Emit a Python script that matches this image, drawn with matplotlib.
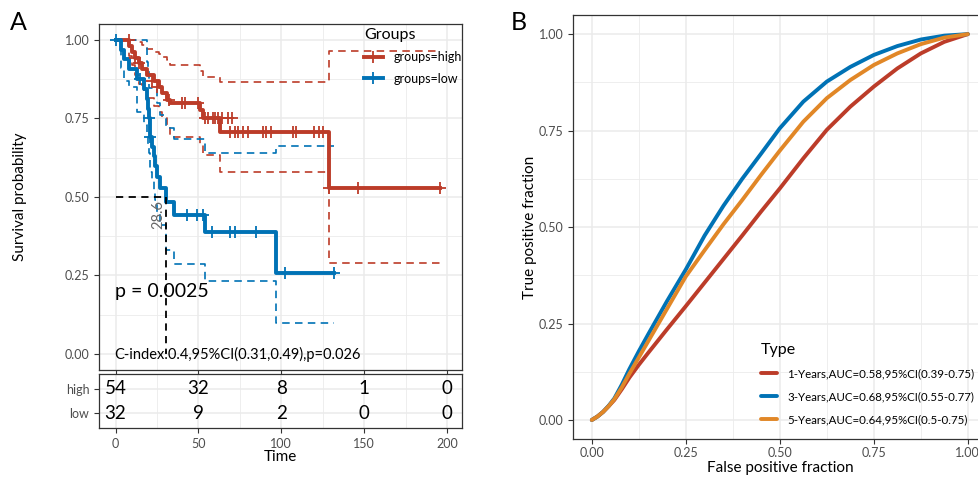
import numpy as np
import matplotlib
matplotlib.use("Agg")
import matplotlib.pyplot as plt
from matplotlib.lines import Line2D

plt.rcParams["font.family"] = ["Lato", "DejaVu Sans"]

RED = "#BC3C29"
BLUE = "#0072B5"
ORANGE = "#E18727"
GRID = "#EBEBEB"
TICK = "#4D4D4D"
BORDER = "#333333"

# ---- panel A: Kaplan-Meier ----
high_t = [0, 8, 10, 12, 14, 16, 19, 23, 26, 28, 31, 33, 51, 53, 63, 129, 196]
high_s = [1, .981, .963, .944, .926, .907, .888, .869, .85, .83, .81, .80, .777, .753, .707, .53, .53]
high_up = [1, 1, 1, 1, .995, .985, .97, .962, .955, .945, .935, .92, .90, .883, .867, .966, .966]
high_lo = [1, .95, .92, .89, .86, .84, .815, .79, .77, .75, .73, .69, .665, .634, .578, .29, .29]
high_cens_t = [8, 12, 14, 22, 25, 32, 40, 42, 50, 54, 56, 58.5, 60, 62, 64, 68, 70.5,
               69, 72, 74, 77, 80, 89, 91, 94, 107, 109, 120, 123, 125, 129, 146, 196]
high_cens_s = [1, .944, .926, .869, .85, .81, .80, .80, .80, .753, .753, .753, .753, .753, .753, .753, .753,
               .707, .707, .707, .707, .707, .707, .707, .707, .707, .707, .707, .707, .707, .53, .53, .53]

low_t = [0, 3, 5, 8, 13, 17, 19, 19.5, 20, 20.5, 21, 22, 23, 24, 25, 27, 30.5, 35, 54, 96.5, 132]
low_s = [1, .969, .938, .906, .875, .844, .812, .78, .75, .72, .69, .66, .63, .60, .565, .53, .485, .443, .388, .258, .258]
low_up = [1, 1, 1, 1, 1, 1, .93, .90, .846, .846, .846, .846, .846, .846, .80, .76, .72, .684, .64, .663, .663]
low_lo = [1, .91, .87, .85, .77, .73, .70, .67, .64, .61, .58, .55, .52, .49, .45, .41, .33, .287, .233, .099, .099]
low_cens_t = [0, 15, 20, 21, 43, 49, 53, 58, 69, 72, 85, 102, 132]
low_cens_s = [1, .875, .75, .69, .443, .443, .443, .388, .388, .388, .388, .258, .258]

risk_times = [0, 50, 100, 150, 200]
risk_high = [54, 32, 8, 1, 0]
risk_low = [32, 9, 2, 0, 0]
median_label = "28.6"
pval_text = "p = 0.0025"
cindex_text = "C-index:0.4,95%CI(0.31,0.49),p=0.026"

# ---- panel B: time-dependent ROC ----
fpr = [0, 0.015, 0.03, 0.045, 0.06, 0.08, 0.1, 0.125, 0.15, 0.2, 0.25, 0.3, 0.35, 0.4, 0.45, 0.5,
       0.5625, 0.625, 0.6875, 0.75, 0.8125, 0.875, 0.9375, 1.0]
tpr_1y = [0, 0.009, 0.021, 0.036, 0.052, 0.08, 0.11, 0.143, 0.174, 0.235, 0.295, 0.356, 0.417,
          0.478, 0.54, 0.600, 0.678, 0.752, 0.812, 0.864, 0.911, 0.95, 0.98, 1.0]
tpr_3y = [0, 0.009, 0.021, 0.037, 0.056, 0.092, 0.132, 0.178, 0.222, 0.308, 0.39, 0.478, 0.555,
          0.625, 0.69, 0.756, 0.825, 0.877, 0.915, 0.946, 0.969, 0.986, 0.996, 1.0]
tpr_5y = [0, 0.009, 0.021, 0.036, 0.054, 0.085, 0.12, 0.162, 0.204, 0.288, 0.372, 0.44, 0.507,
          0.57, 0.635, 0.698, 0.773, 0.834, 0.881, 0.92, 0.95, 0.974, 0.991, 1.0]
roc_labels = ["1-Years,AUC=0.58,95%CI(0.39-0.75)",
              "3-Years,AUC=0.68,95%CI(0.55-0.77)",
              "5-Years,AUC=0.64,95%CI(0.5-0.75)"]


def style_axes(ax):
    for sp in ax.spines.values():
        sp.set_color(BORDER)
        sp.set_linewidth(0.9)
    ax.tick_params(colors=BORDER, labelcolor=TICK, labelsize=9, length=3.5, width=0.8)
    ax.grid(which="major", color=GRID, lw=1.1, zorder=0)
    ax.grid(which="minor", color=GRID, lw=0.6, zorder=0)
    ax.tick_params(which="minor", length=0)
    ax.set_axisbelow(True)


fig = plt.figure(figsize=(9.79, 4.78), dpi=100)

# main KM axes
ax = fig.add_axes([0.1011, 0.2266, 0.3708, 0.7226])
style_axes(ax)
dash = (0, (4.5, 3.2))
for t, s, up, lo, c_t, c_s, col in [
    (high_t, high_s, high_up, high_lo, high_cens_t, high_cens_s, RED),
    (low_t, low_s, low_up, low_lo, low_cens_t, low_cens_s, BLUE),
]:
    ax.step(t, up, where="post", color=col, lw=1.2, ls=dash, zorder=3)
    ax.step(t, lo, where="post", color=col, lw=1.2, ls=dash, zorder=3)
    ax.step(t, s, where="post", color=col, lw=2.8, zorder=4)
    ax.plot(c_t, c_s, ls="none", marker="+", ms=9, mew=1.3, color=col, zorder=5)

# median line
low_arr = np.array(low_s)
med = low_t[int(np.argmax(low_arr <= 0.5))]
ax.plot([0, med], [0.5, 0.5], color="black", lw=1.3, ls=(0, (4, 3)), zorder=6)
ax.plot([med, med], [0.5, 0], color="black", lw=1.3, ls=(0, (4, 3)), zorder=6)
ax.text(med - 4.6, 0.445, median_label, rotation=90, color="#666666", fontsize=10.5,
        ha="center", va="center", zorder=7)

ax.text(-0.5, 0.2, pval_text, fontsize=14, ha="left", va="center", zorder=7)
ax.text(-0.5, 0.0, cindex_text, fontsize=10.5, ha="left", va="center", zorder=7)

ax.set_xlim(-10, 209)
ax.set_ylim(-0.05, 1.05)
ax.set_xticks(risk_times)
ax.set_xticks([25, 75, 125, 175], minor=True)
ax.set_yticks([0, 0.25, 0.5, 0.75, 1.0])
ax.set_yticks([0.125, 0.375, 0.625, 0.875], minor=True)
ax.set_yticklabels(["0.00", "0.25", "0.50", "0.75", "1.00"])
ax.set_xticklabels([])
ax.set_ylabel("Survival probability", fontsize=11, labelpad=27)

handles = [Line2D([], [], color=RED, lw=2.8, marker="+", ms=9, mew=1.3),
           Line2D([], [], color=BLUE, lw=2.8, marker="+", ms=9, mew=1.3)]
leg = ax.legend(handles, ["groups=high", "groups=low"], title="Groups",
                loc="upper left", bbox_to_anchor=(364 / 979, 1 - 28 / 478),
                bbox_transform=fig.transFigure, frameon=False, fontsize=9,
                title_fontsize=11.5, handlelength=1.5, handletextpad=0.9,
                labelspacing=0.75, borderaxespad=0, borderpad=0)
leg._legend_box.align = "left"
leg.set_zorder(8)

# risk table
tab = fig.add_axes([0.1011, 0.1046, 0.3708, 0.113])
style_axes(tab)
tab.set_xlim(-10, 209)
tab.set_ylim(0.4, 2.6)
tab.set_xticks(risk_times)
tab.set_xticks([25, 75, 125, 175], minor=True)
tab.set_yticks([2, 1])
tab.set_yticklabels(["high", "low"])
for x, h, l in zip(risk_times, risk_high, risk_low):
    tab.text(x, 2, str(h), ha="center", va="center", fontsize=13.5)
    tab.text(x, 1, str(l), ha="center", va="center", fontsize=13.5)
tab.set_xlabel("Time", fontsize=11, labelpad=0)

# ROC panel
bx = fig.add_axes([0.5853, 0.081, 0.4225, 0.888])
style_axes(bx)
for tpr, col, lab in [(tpr_1y, RED, roc_labels[0]), (tpr_3y, BLUE, roc_labels[1]),
                      (tpr_5y, ORANGE, roc_labels[2])]:
    bx.plot(fpr, tpr, color=col, lw=2.8, label=lab, solid_capstyle="round",
            solid_joinstyle="round", zorder=3)
bx.set_xlim(-0.05, 1.05)
bx.set_ylim(-0.05, 1.05)
ticks = [0, 0.25, 0.5, 0.75, 1.0]
bx.set_xticks(ticks)
bx.set_yticks(ticks)
bx.set_xticks([0.125, 0.375, 0.625, 0.875], minor=True)
bx.set_yticks([0.125, 0.375, 0.625, 0.875], minor=True)
bx.set_xticklabels(["0.00", "0.25", "0.50", "0.75", "1.00"])
bx.set_yticklabels(["0.00", "0.25", "0.50", "0.75", "1.00"])
bx.tick_params(axis="x", pad=2)
bx.set_xlabel("False positive fraction", fontsize=11, labelpad=1.5)
bx.set_ylabel("True positive fraction", fontsize=11, labelpad=1)
leg2 = bx.legend(title="Type", loc="upper left", bbox_to_anchor=(761 / 979, 1 - 343 / 478),
                 bbox_transform=fig.transFigure, frameon=False, fontsize=8.3,
                 title_fontsize=11.5, handlelength=1.4, handletextpad=0.9,
                 labelspacing=1.05, borderaxespad=0, borderpad=0)
leg2._legend_box.align = "left"
leg2._legend_box.sep = 8

fig.text(10 / 979, 1 - 22 / 478, "A", fontsize=18, va="center", ha="left")
fig.text(511 / 979, 1 - 22 / 478, "B", fontsize=18, va="center", ha="left")

fig.savefig("out.png", dpi=100)
